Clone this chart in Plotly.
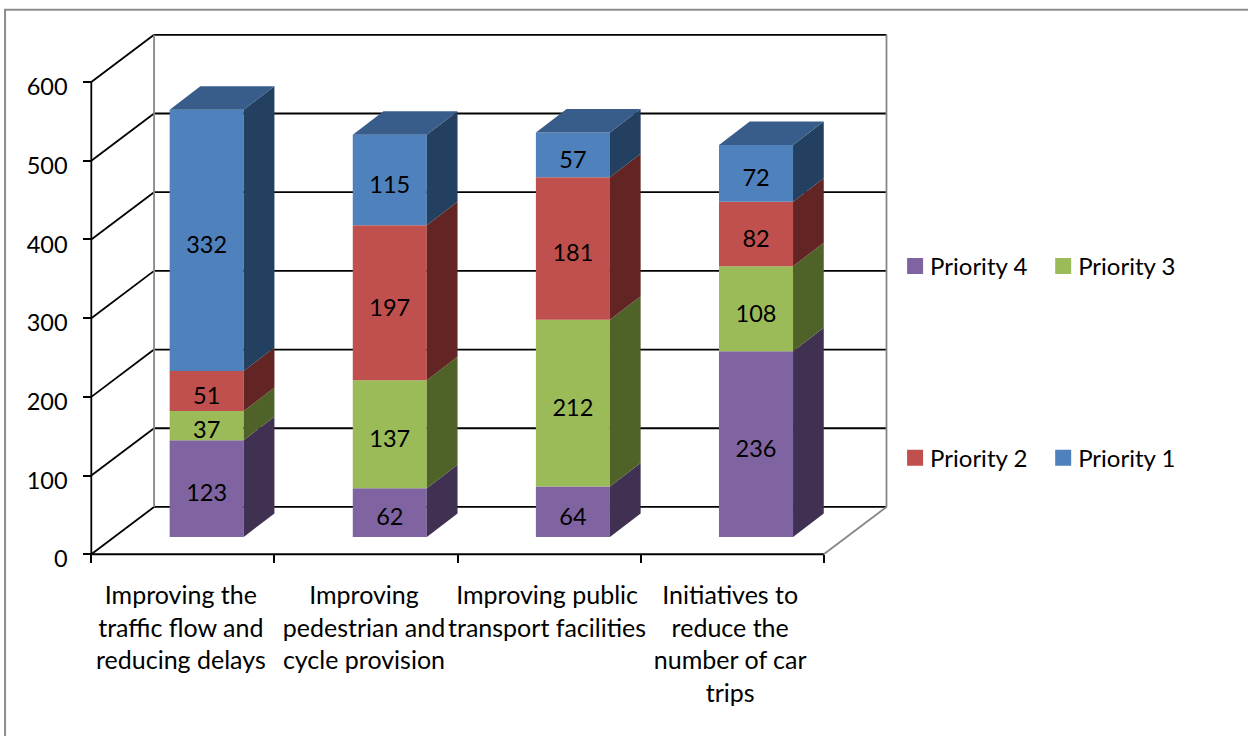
import plotly.graph_objects as go

categories = [
    "Improving the<br>traffic flow and<br>reducing delays",
    "Improving<br>pedestrian and<br>cycle provision",
    "Improving public<br>transport facilities",
    "Initiatives to<br>reduce the<br>number of car<br>trips",
]
priority_4 = [123, 62, 64, 236]
priority_3 = [37, 137, 212, 108]
priority_2 = [51, 197, 181, 82]
priority_1 = [332, 115, 57, 72]
y_ticks = [0, 100, 200, 300, 400, 500, 600]

series = [
    ("Priority 4", priority_4, "#8064A2", "#403152"),
    ("Priority 3", priority_3, "#9BBB59", "#4F6228"),
    ("Priority 2", priority_2, "#C0504D", "#632523"),
    ("Priority 1", priority_1, "#4F81BD", "#244061"),
]
top_colour = "#385D8A"

FONT = "Lato"
NUM_SIZE = 23.5
LEGEND_SIZE = 24
CAT_SIZE = 25

# pixel geometry of the picture: the "3D" look is an oblique projection done by hand
W, H = 1248, 736
X0_PX, Y0_PX = 91.7, 554.0
PX_PER_CAT, PX_PER_UNIT = 183.0, 0.787

wall_dx, wall_dy = 62.7 / PX_PER_CAT, 47.3 / PX_PER_UNIT
bar_dx, bar_dy = 30.7 / PX_PER_CAT, 23.5 / PX_PER_UNIT
bar_left, bar_width = 78.3 / PX_PER_CAT, 74.0 / PX_PER_CAT
bar_lift = 17.3 / PX_PER_UNIT
label_drop = 7.0 / PX_PER_UNIT

n_cat = len(categories)
x_end = n_cat + wall_dx
y_end = y_ticks[-1] + wall_dy
x_range = [-0.1, 4.4]
y_range = [-20, 670]

plot_l = X0_PX + x_range[0] * PX_PER_CAT
plot_r = X0_PX + x_range[1] * PX_PER_CAT
plot_b = Y0_PX - y_range[0] * PX_PER_UNIT
plot_t = Y0_PX - y_range[1] * PX_PER_UNIT


def paper_x(px):
    return (px - plot_l) / (plot_r - plot_l)


def paper_y(px):
    return (plot_b - px) / (plot_b - plot_t)


fig = go.Figure()

# stacked faces
base = [bar_lift] * n_cat
lefts = [i + bar_left for i in range(n_cat)]
centers = [x + bar_width / 2 for x in lefts]
for name, values, colour, side in series:
    fig.add_trace(
        go.Bar(
            x=centers,
            y=values,
            base=base,
            width=bar_width,
            marker={"color": colour, "line": {"width": 0}},
            showlegend=False,
            hoverinfo="skip",
        )
    )
    side_x, side_y = [], []
    for i in range(n_cat):
        right = lefts[i] + bar_width
        low, high = base[i], base[i] + values[i]
        side_x += [right, right + bar_dx, right + bar_dx, right, right, None]
        side_y += [low, low + bar_dy, high + bar_dy, high, low, None]
    fig.add_trace(
        go.Scatter(
            x=side_x,
            y=side_y,
            mode="lines",
            fill="toself",
            fillcolor=side,
            line={"width": 0, "color": side},
            showlegend=False,
            hoverinfo="skip",
        )
    )
    base = [b + v for b, v in zip(base, values)]

# top faces
top_x, top_y = [], []
for i in range(n_cat):
    top_x += [lefts[i], lefts[i] + bar_width, lefts[i] + bar_width + bar_dx, lefts[i] + bar_dx, lefts[i], None]
    top_y += [base[i], base[i], base[i] + bar_dy, base[i] + bar_dy, base[i], None]
fig.add_trace(
    go.Scatter(
        x=top_x,
        y=top_y,
        mode="lines",
        fill="toself",
        fillcolor=top_colour,
        line={"width": 0, "color": top_colour},
        showlegend=False,
        hoverinfo="skip",
    )
)

# value labels
base = [bar_lift] * n_cat
for name, values, colour, side in series:
    fig.add_trace(
        go.Scatter(
            x=centers,
            y=[b + v / 2 - label_drop for b, v in zip(base, values)],
            text=[str(v) for v in values],
            mode="text",
            textposition="middle center",
            textfont={"family": FONT, "size": NUM_SIZE, "color": "#000000"},
            showlegend=False,
            hoverinfo="skip",
        )
    )
    base = [b + v for b, v in zip(base, values)]

# legend: one small legend per entry, placed in a 2x2 block
legend_pos = {
    "Priority 4": (890, 266),
    "Priority 3": (1038, 266),
    "Priority 2": (890, 458),
    "Priority 1": (1038, 458),
}
legends = {}
for k, (name, values, colour, side) in enumerate(series):
    ref = "legend" if k == 0 else f"legend{k + 1}"
    fig.add_trace(
        go.Scatter(
            x=[None],
            y=[None],
            mode="markers",
            name=name,
            marker={"symbol": "square", "size": 18, "color": colour},
            legend=ref,
            showlegend=True,
        )
    )
    lx, ly = legend_pos[name]
    legends[ref] = dict(
        x=paper_x(lx),
        y=paper_y(ly),
        xanchor="left",
        yanchor="middle",
        bgcolor="rgba(0,0,0,0)",
        borderwidth=0,
        itemwidth=30,
        font={"family": FONT, "size": LEGEND_SIZE, "color": "#000000"},
    )

# walls and floor, under the bars
BLACK = {"color": "#000000", "width": 1.8}
GREY = {"color": "#868686", "width": 1.8}
shapes = []
for v in y_ticks:
    shapes.append(dict(type="line", x0=0, y0=v, x1=wall_dx, y1=v + wall_dy, line=BLACK, layer="below"))
    shapes.append(dict(type="line", x0=wall_dx, y0=v + wall_dy, x1=x_end, y1=v + wall_dy, line=BLACK, layer="below"))
shapes += [
    dict(type="line", x0=wall_dx, y0=wall_dy, x1=wall_dx, y1=y_end, line=GREY, layer="below"),
    dict(type="line", x0=x_end, y0=wall_dy, x1=x_end, y1=y_end, line=GREY, layer="below"),
    dict(type="line", x0=n_cat, y0=0, x1=x_end, y1=wall_dy, line=GREY, layer="below"),
    dict(type="line", x0=0, y0=0, x1=0, y1=y_ticks[-1], line=BLACK, layer="below"),
    dict(type="line", x0=0, y0=0, x1=n_cat, y1=0, line=BLACK, layer="below"),
    # outer frame of the chart, runs off the right and bottom of the picture
    dict(
        type="rect",
        xref="paper",
        yref="paper",
        x0=paper_x(5.5),
        y0=paper_y(H + 10),
        x1=paper_x(W + 10),
        y1=paper_y(9.5),
        line={"color": "#8C8C8C", "width": 2},
        layer="below",
    ),
]

fig.update_layout(
    width=W,
    height=H,
    margin={
        "l": plot_l,
        "r": W - plot_r,
        "t": plot_t,
        "b": H - plot_b,
        "pad": 0,
        "autoexpand": False,
    },
    paper_bgcolor="#FFFFFF",
    plot_bgcolor="rgba(0,0,0,0)",
    barmode="overlay",
    shapes=shapes,
    font={"family": FONT, "size": NUM_SIZE, "color": "#000000"},
    xaxis=dict(
        range=x_range,
        showgrid=False,
        zeroline=False,
        showline=False,
        anchor="free",
        position=(0 - y_range[0]) / (y_range[1] - y_range[0]),
        tickmode="array",
        tickvals=[i + 0.5 for i in range(n_cat)],
        ticktext=categories,
        tickangle=0,
        ticks="",
        ticklabelstandoff=24,
        ticklabelshift=-2,
        minor=dict(
            tickmode="array",
            tickvals=list(range(n_cat + 1)),
            ticks="outside",
            ticklen=8,
            tickwidth=1.8,
            tickcolor="#000000",
            showgrid=False,
        ),
        tickfont={"family": FONT, "size": CAT_SIZE, "color": "#000000"},
    ),
    yaxis=dict(
        range=y_range,
        showgrid=False,
        zeroline=False,
        showline=False,
        anchor="free",
        position=(0 - x_range[0]) / (x_range[1] - x_range[0]),
        tickmode="array",
        tickvals=y_ticks,
        ticks="outside",
        ticklen=8,
        tickwidth=1.8,
        tickcolor="#000000",
        ticklabelstandoff=11,
        ticklabelshift=5,
        tickfont={"family": FONT, "size": NUM_SIZE, "color": "#000000"},
    ),
    **legends,
)

# plotly keeps at least 30px for a legend swatch, so nudge the swatches closer to their text
nudge = """
document.body.style.margin = '0';
setTimeout(function () {
  document.querySelectorAll('.legendpoints').forEach(function (g) {
    g.setAttribute('transform', 'translate(5,0)');
  });
}, 100);
"""

fig.write_html("out.html", config={"displayModeBar": False}, post_script=nudge)
